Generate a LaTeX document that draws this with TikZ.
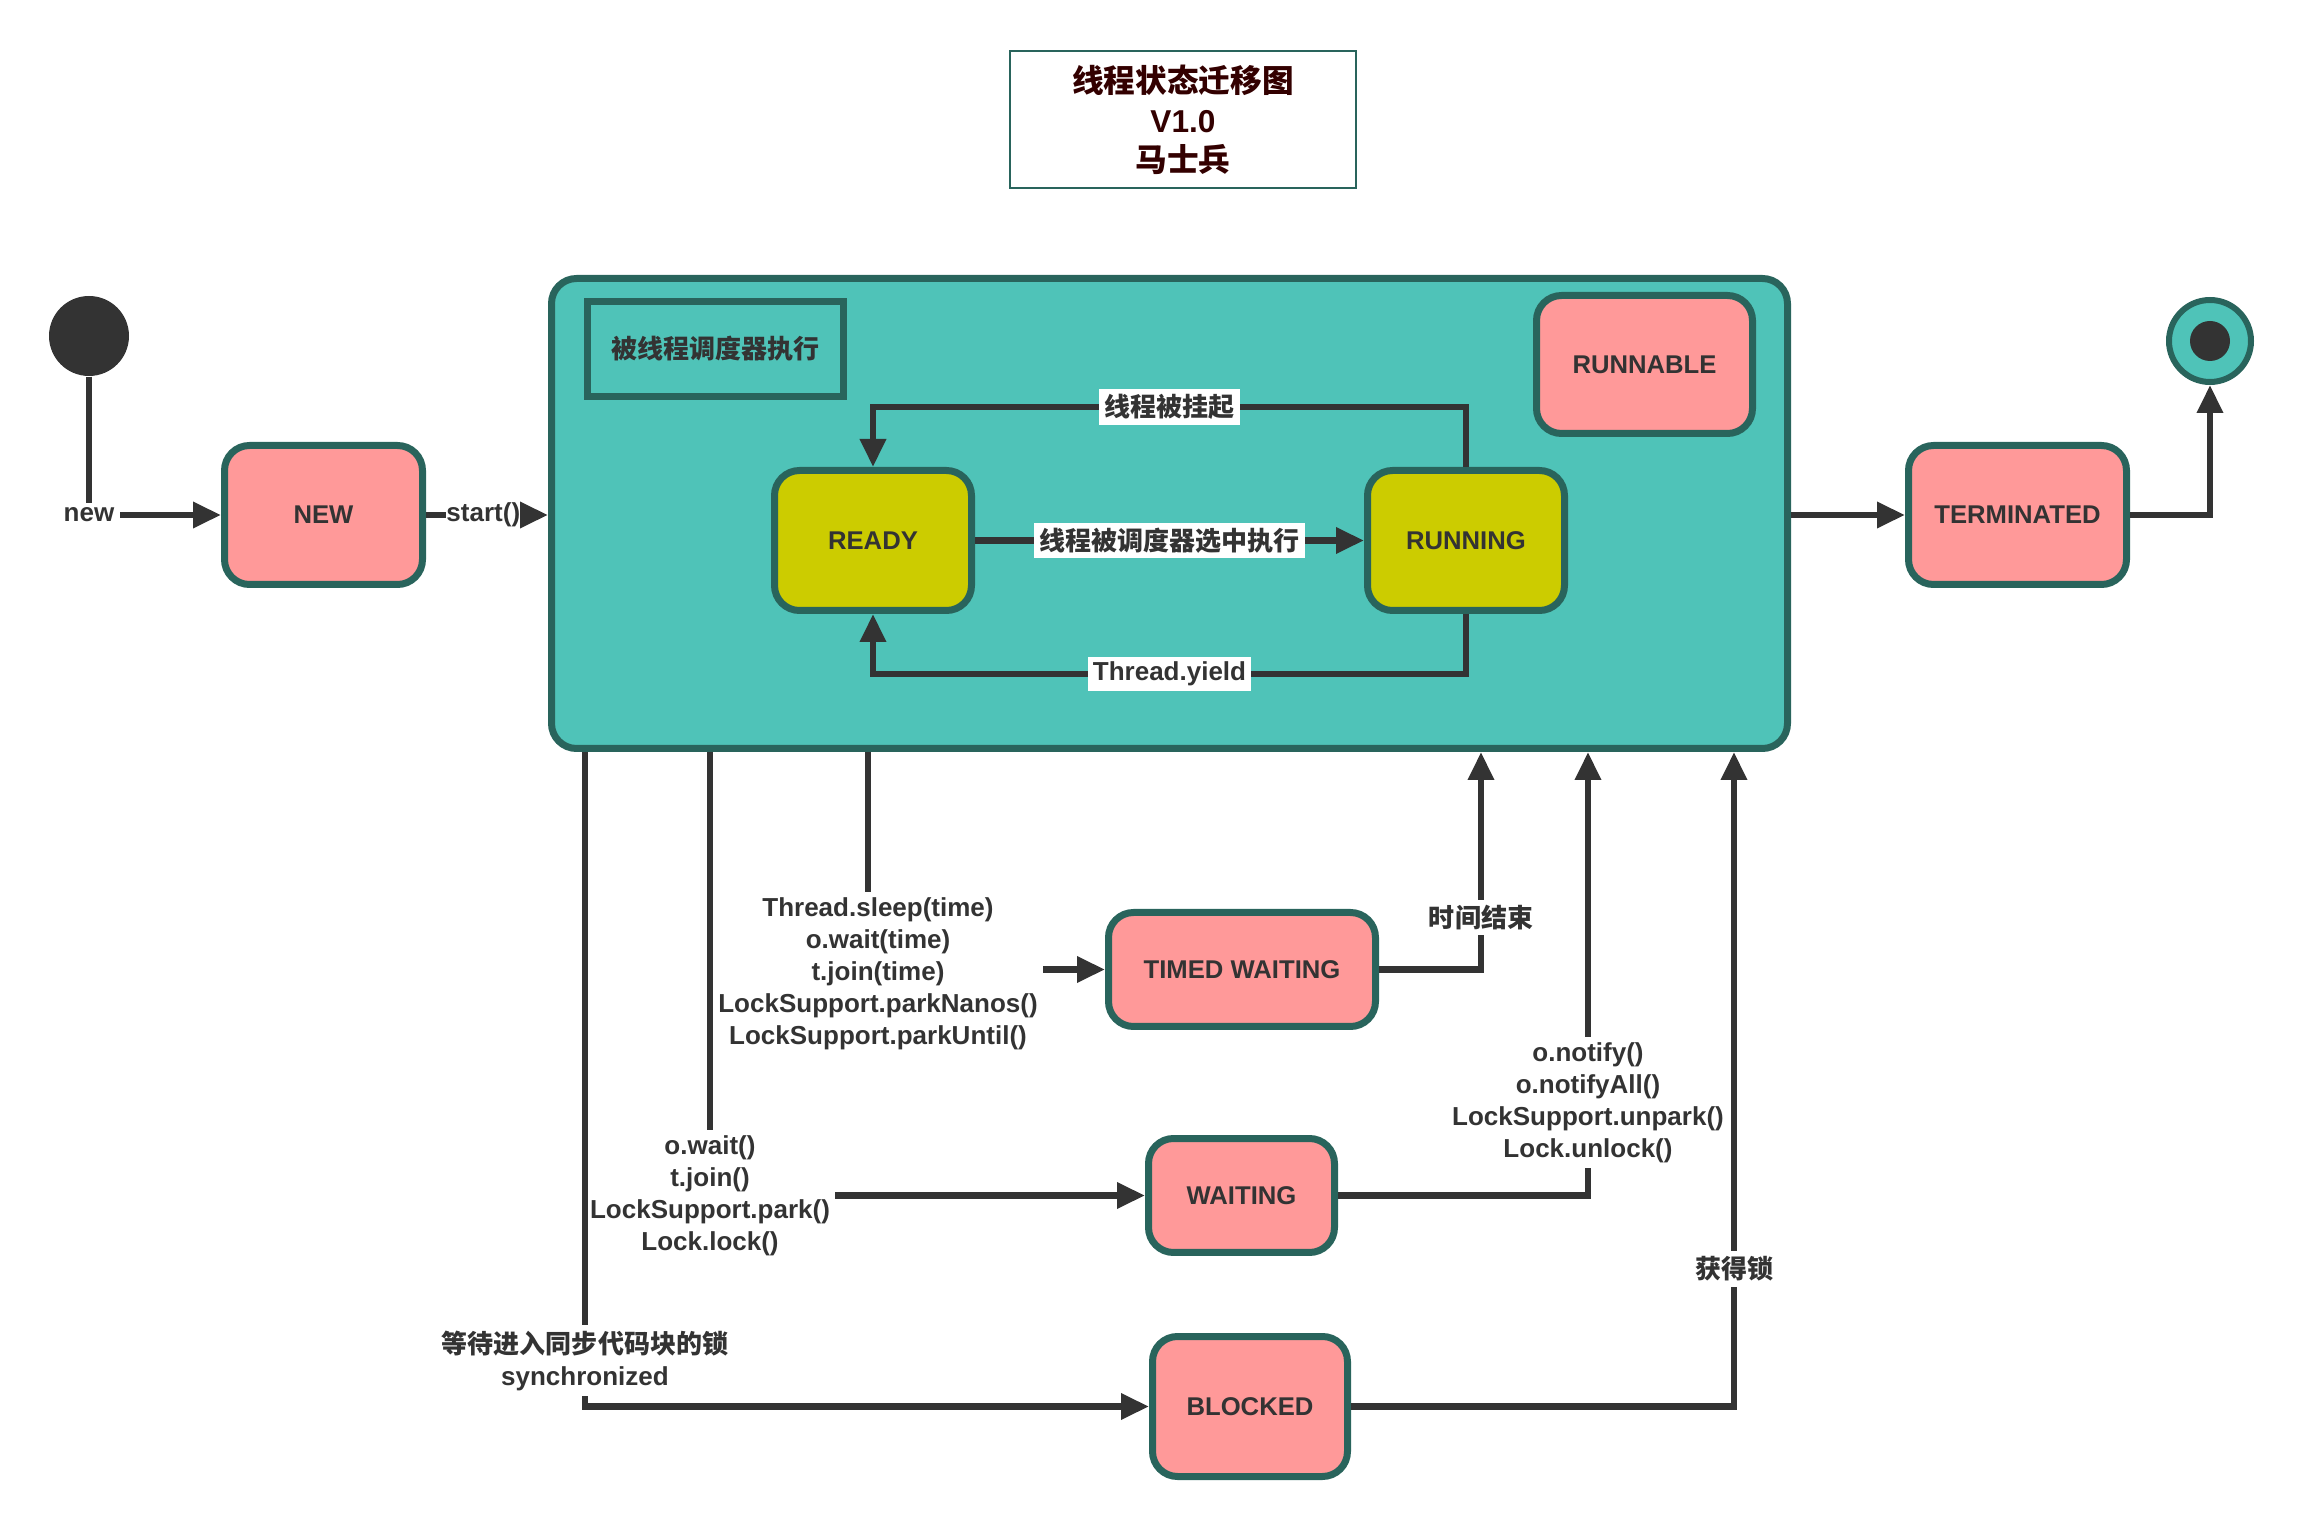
\documentclass[tikz,border=0pt]{standalone}
\usepackage{fontspec}
\setmainfont{Liberation Sans}
\newfontfamily\cjk{Noto Sans CJK SC}
\usepackage{tikz}
\usetikzlibrary{positioning,arrows.meta}
\definecolor{TSLine}{HTML}{333333}
\definecolor{TSEdge}{HTML}{29645C}
\definecolor{TSTeal}{HTML}{4FC3B8}
\definecolor{TSPink}{HTML}{FF9999}
\definecolor{TSOlive}{HTML}{CCCC00}
\definecolor{TSTitle}{HTML}{330000}

\begin{document}
\begin{tikzpicture}[x=0.1mm,y=-0.1mm,>={Triangle[length=2.8mm,width=2.5mm]},node distance=3.89cm]
  \tikzstyle{tstate}=[draw=TSEdge,fill=TSPink,line width=0.7mm,rounded corners=2.5mm,
    minimum width=1.97cm,minimum height=1.40cm,text=TSLine,font=\fontsize{7.3}{9}\selectfont\bfseries]
  \tikzstyle{tlabel}=[fill=white,inner sep=1.5pt,align=center,text=TSLine,
    font=\fontsize{7.4}{9.1}\selectfont\bfseries]
  \tikzstyle{tflow}=[->,line width=0.65mm,color=TSLine]
  \useasboundingbox (0,0) rectangle (2300,1526);
  % title
  \node[draw=TSEdge,line width=0.2mm,minimum width=3.46cm,minimum height=1.37cm,align=center,
    text=TSTitle,font=\fontsize{9}{11.2}\selectfont\bfseries] (title) at (1183,120)
    {{\cjk 线程状态迁移图}\\V1.0\\{\cjk 马士兵}};
  % runnable container
  \node[draw=TSEdge,fill=TSTeal,line width=0.7mm,rounded corners=2.5mm,
    minimum width=12.36cm,minimum height=4.70cm] (runbox) at (1169.5,513.5) {};
  \node[draw=TSEdge,line width=0.7mm,minimum width=2.56cm,minimum height=0.95cm,text=TSLine,
    font=\fontsize{7.4}{9}\selectfont\bfseries] (schedtag) at (715.5,349) {\cjk 被线程调度器执行};
  \node[tstate,minimum width=2.16cm,minimum height=1.38cm] (runnable) at (1644.5,364.5) {RUNNABLE};
  \node[tstate,fill=TSOlive] (ready) at (873,540.5) {READY};
  \node[tstate,fill=TSOlive,right=of ready] (running) {RUNNING};
  % states
  \node[circle,fill=TSLine,inner sep=0pt,minimum size=8mm] (init) at (89,336) {};
  \node[tstate,minimum width=1.98cm,minimum height=1.39cm] (new) at (323.5,515) {NEW};
  \node[tstate,minimum width=2.18cm,minimum height=1.39cm] (terminated) at (2017.5,515) {TERMINATED};
  \node[circle,draw=TSEdge,fill=TSTeal,line width=0.6mm,inner sep=0pt,minimum size=8.2mm] (final) at (2210,341) {};
  \node[circle,fill=TSLine,inner sep=0pt,minimum size=4mm] (finaldot) at (final) {};
  \node[tstate,minimum width=2.67cm,minimum height=1.14cm] (timedw) at (1242,969.5) {TIMED WAITING};
  \node[tstate,minimum width=1.86cm,minimum height=1.14cm] (waiting) at (1241.5,1195.5) {WAITING};
  \node[tstate,minimum width=1.95cm] (blocked) at (1250,1406.5) {BLOCKED};
  % ends on the container's bottom edge
  \coordinate (blockout) at (585,752);
  \coordinate (waitout) at (710,752);
  \coordinate (sleepout) at (868,752);
  \coordinate (timein) at (1481,752);
  \coordinate (notifyin) at (1588,752);
  \coordinate (lockin) at (1734,752);
  % connectors
  \draw[tflow] (init) |- node[tlabel]{new} (new);
  \draw[tflow] (new) -- node[tlabel,inner sep=0pt,pos=0.47]{start()} (new -| runbox.west);
  \draw[tflow] (runbox.east |- terminated) -- (terminated);
  \draw[tflow] (terminated) -| (final);
  \draw[tflow] (running.north) -- ++(0,-60) -| node[tlabel,pos=0.25]{\cjk 线程被挂起} (ready.north);
  \draw[tflow] (ready) -- node[tlabel]{\cjk 线程被调度器选中执行} (running);
  \draw[tflow] (running.south) -- ++(0,60) -| node[tlabel,pos=0.25]{Thread.yield} (ready.south);
  \draw[tflow] (sleepout) |- node[tlabel,xshift=1mm,yshift=-0.4mm]{Thread.sleep(time)\\o.wait(time)\\t.join(time)\\
    LockSupport.parkNanos()\\LockSupport.parkUntil()} (timedw);
  \draw[tflow] (waitout) |- node[tlabel]{o.wait()\\t.join()\\LockSupport.park()\\Lock.lock()} (waiting);
  \draw[tflow] (blockout) |- node[tlabel,pos=0.465]{{\cjk 等待进入同步代码块的锁}\\synchronized} (blocked);
  \draw[tflow] (timedw) -| node[tlabel,pos=0.62]{\cjk 时间结束} (timein);
  \draw[tflow] (waiting) -| node[tlabel,pos=0.605]{o.notify()\\o.notifyAll()\\LockSupport.unpark()\\Lock.unlock()} (notifyin);
  \draw[tflow] (blocked) -| node[tlabel,pos=0.605]{\cjk 获得锁} (lockin);
\end{tikzpicture}
\end{document}
